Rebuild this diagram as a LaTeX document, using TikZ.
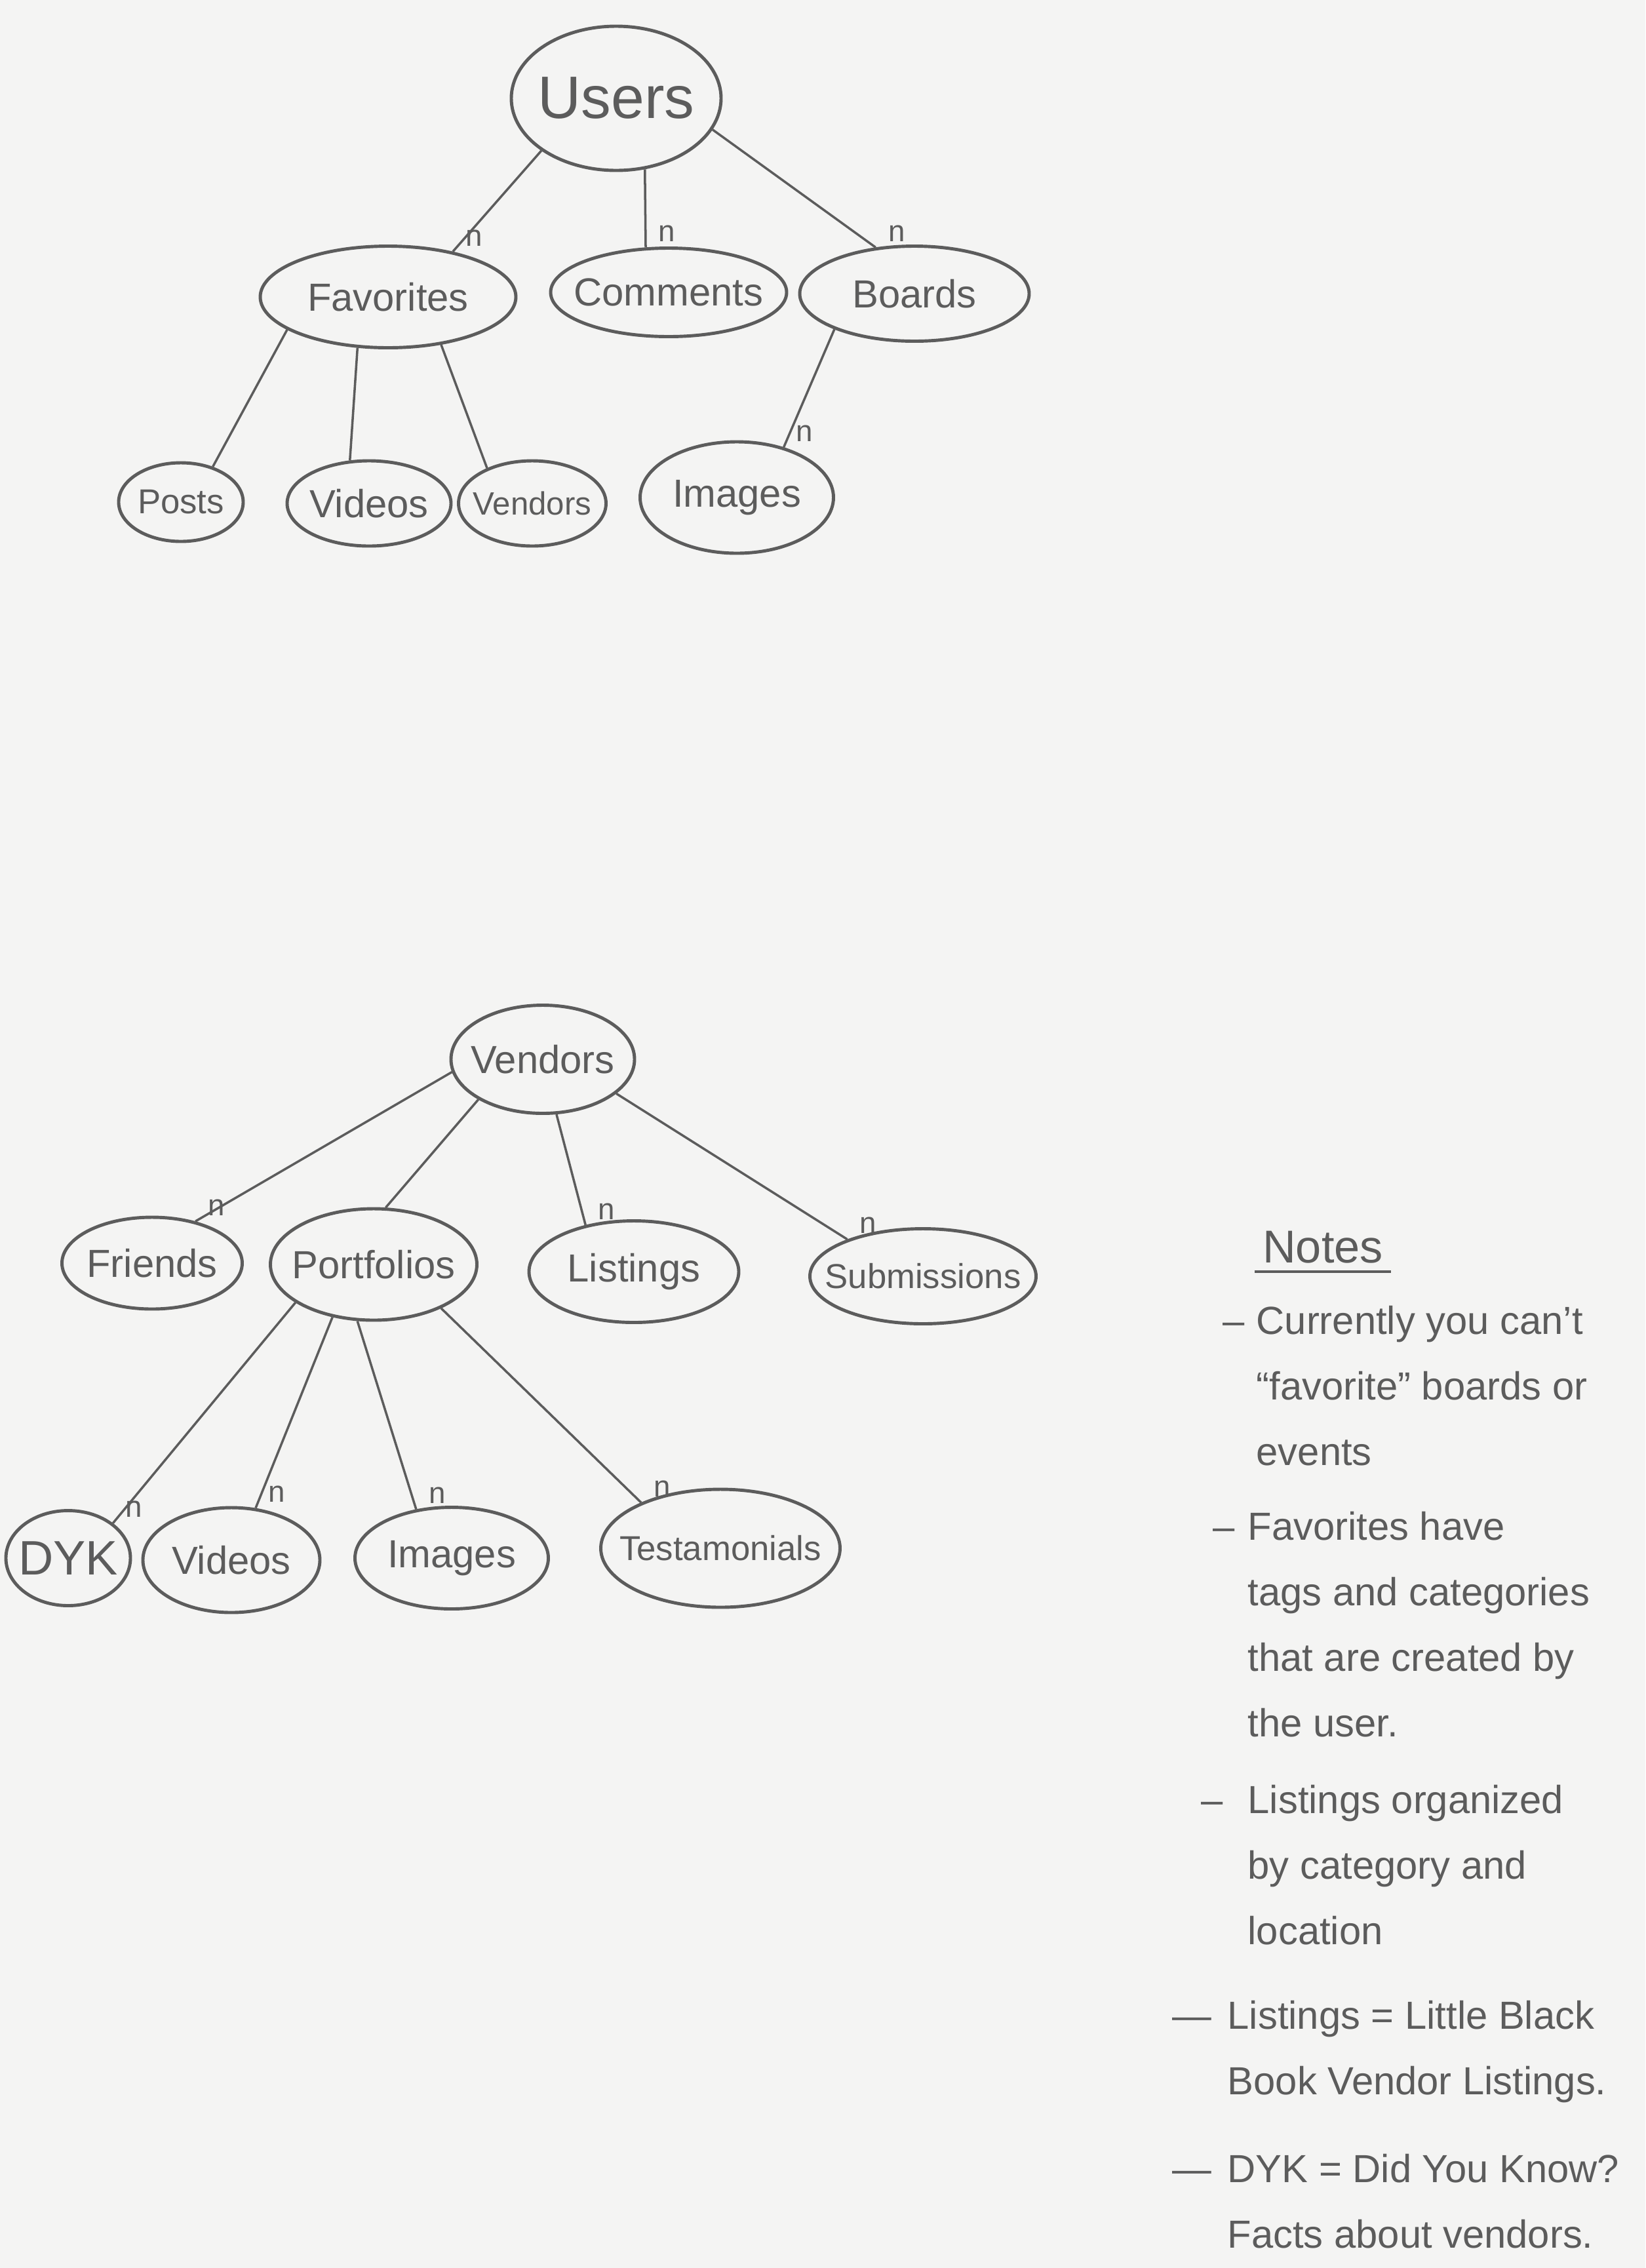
\documentclass[tikz,border=0pt]{standalone}
\usepackage{fontspec}
\setmainfont{Liberation Sans}
\usetikzlibrary{shapes.geometric}
\definecolor{pencil}{RGB}{92,92,92}
\definecolor{paper}{RGB}{244,244,243}
\begin{document}
\begin{tikzpicture}[
        entity/.style={
            ellipse,
            draw=pencil,
            line width=1.4pt,
            inner xsep=-0.4cm,
            inner ysep=0pt,
            text=pencil,
            font=\fontsize{17}{20}\selectfont
        },
        dims/.style 2 args={minimum width=#1cm, minimum height=#2cm},
        link/.style={draw=pencil, line width=1pt},
        many/.style={above right, xshift=3pt, inner sep=2pt, text=pencil, font=\fontsize{13}{15}\selectfont},
        note/.style={anchor=base west, inner sep=0pt, text=pencil, font=\fontsize{17}{28.45}\selectfont}
    ]

    \fill[paper] (0,0) rectangle (25.1,-34.6);

    % =========================
    % Users
    % =========================
    \node[entity, dims={3.2}{2.2}, font=\fontsize{26}{30}\selectfont] (users) at (9.40,-1.50) {Users};
    \node[entity, dims={3.9}{1.55}] (favorites) at (5.92,-4.53) {Favorites};
    \node[entity, dims={3.6}{1.35}] (comments)  at (10.20,-4.46) {Comments};
    \node[entity, dims={3.5}{1.45}] (boards)    at (13.95,-4.48) {Boards};

    \node[entity, dims={1.9}{1.2}, font=\fontsize{15}{18}\selectfont]  (posts)      at (2.76,-7.66) {Posts};
    \node[entity, dims={2.5}{1.3}]  (favvideos)   at (5.63,-7.68) {Videos};
    \node[entity, dims={2.25}{1.3}, font=\fontsize{14}{17}\selectfont] (favvendors) at (8.12,-7.68) {Vendors};
    \node[entity, dims={2.95}{1.7}] (boardimages) at (11.24,-7.59) {Images};

    \draw[link] (users.215) -- (favorites.35) node[many] {n};
    \draw[link] (users.292) -- (comments.117) node[many] {n};
    \draw[link] (users.342) -- (boards.130) node[many] {n};

    \draw[link] (favorites.198) -- (posts.48);
    \draw[link] (favorites.239) -- (favvideos.114);
    \draw[link] (favorites.318) -- (favvendors.142);
    \draw[link] (boards.204) -- (boardimages.47) node[many] {n};

    % =========================
    % Vendors
    % =========================
    \node[entity, dims={2.8}{1.65}] (vendors) at (8.28,-16.16) {Vendors};
    \node[entity, dims={2.75}{1.4}]  (friends)     at (2.32,-19.27) {Friends};
    \node[entity, dims={3.15}{1.7}]  (portfolios)  at (5.70,-19.29) {Portfolios};
    \node[entity, dims={3.2}{1.55}]  (listings)    at (9.67,-19.40) {Listings};
    \node[entity, dims={3.45}{1.45}, font=\fontsize{15}{18}\selectfont] (submissions) at (14.08,-19.47) {Submissions};

    \node[entity, dims={1.9}{1.45}, font=\fontsize{21}{24}\selectfont] (dyk) at (1.04,-23.77) {DYK};
    \node[entity, dims={2.7}{1.6}]   (pvideos)      at (3.53,-23.80) {Videos};
    \node[entity, dims={2.95}{1.55}] (pimages)      at (6.89,-23.77) {Images};
    \node[entity, dims={3.65}{1.8}, font=\fontsize{15}{18}\selectfont] (testamonials) at (10.99,-23.62) {Testamonials};

    \draw[link] (vendors.188) -- (friends.44) node[many] {n};
    \draw[link] (vendors.212) -- (portfolios.78);
    \draw[link] (vendors.284) -- (listings.136) node[many] {n};
    \draw[link] (vendors.335) -- (submissions.154) node[many] {n};

    \draw[link] (portfolios.206) -- (dyk.38) node[many] {n};
    \draw[link] (portfolios.232) -- (pvideos.65) node[many] {n};
    \draw[link] (portfolios.254) -- (pimages.126) node[many] {n};
    \draw[link] (portfolios.327) -- (testamonials.150) node[many] {n};

    % =========================
    % Notes
    % =========================
    \node[text=pencil, font=\fontsize{20}{24}\selectfont] (notes) at (20.18,-19.03) {Notes};
    \draw[link] (notes.south west) -- (notes.south east);

    \node[note] (note1) at (18.65,-20.35) {\begin{tabular}[t]{@{}p{0.51cm}@{}l@{}}
        -- & Currently you can't\\ & “favorite” boards or\\ & events\end{tabular}};
    \node[note] (note2) at (18.50,-23.49) {\begin{tabular}[t]{@{}p{0.53cm}@{}l@{}}
        -- & Favorites have\\ & tags and categories\\ & that are created by\\ & the user.\end{tabular}};
    \node[note] (note3) at (18.32,-27.66) {\begin{tabular}[t]{@{}p{0.71cm}@{}l@{}}
        -- & Listings organized\\ & by category and\\ & location\end{tabular}};
    \node[note] (note4) at (17.88,-30.95) {\begin{tabular}[t]{@{}p{0.84cm}@{}l@{}}
        --- & Listings = Little Black\\ & Book Vendor Listings.\end{tabular}};
    \node[note] (note5) at (17.88,-33.29) {\begin{tabular}[t]{@{}p{0.84cm}@{}l@{}}
        --- & DYK = Did You Know?\\ & Facts about vendors.\end{tabular}};

\end{tikzpicture}
\end{document}
